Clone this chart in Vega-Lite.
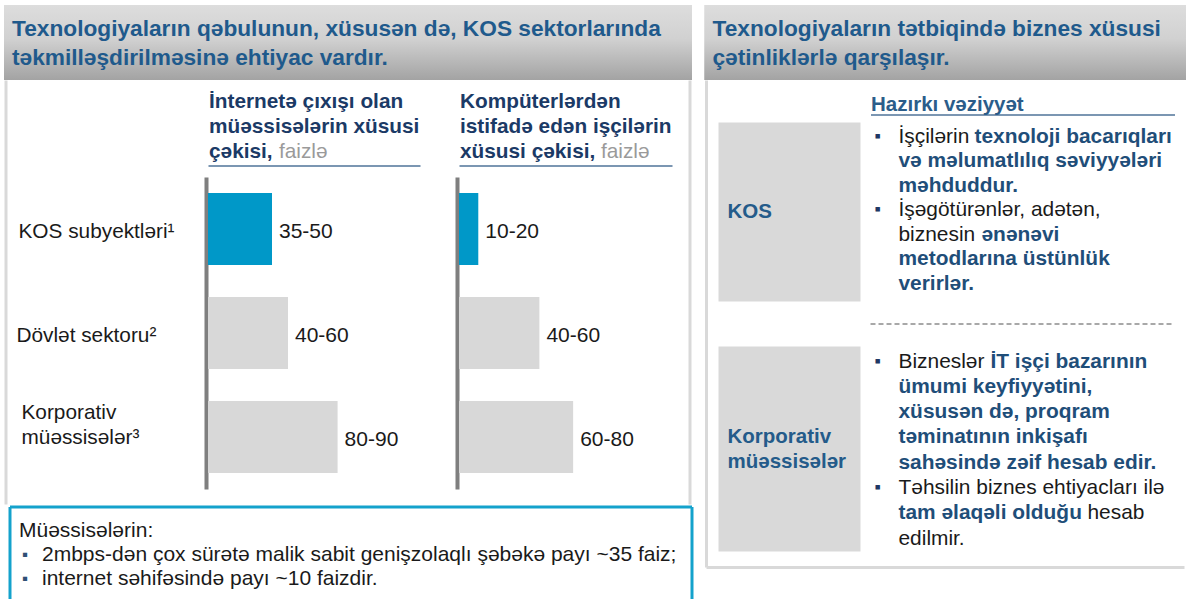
{
  "$schema": "https://vega.github.io/schema/vega-lite/v6.json",
  "background": "#FFFFFF",
  "padding": {"left": 4, "top": 5, "right": 0, "bottom": 0},
  "config": {"view": {"stroke": null}, "font": "Liberation Sans"},
  "datasets": {
    "bars": [
      {"chart": "c1", "cat": "KOS subyektləri¹", "value": 40, "label": "35-50", "hl": "KOS"},
      {"chart": "c1", "cat": "Dövlət sektoru²", "value": 50, "label": "40-60", "hl": "other"},
      {"chart": "c1", "cat": "Korporativ müəssisələr³", "value": 81, "label": "80-90", "hl": "other"},
      {"chart": "c2", "cat": "KOS subyektləri¹", "value": 12, "label": "10-20", "hl": "KOS"},
      {"chart": "c2", "cat": "Dövlət sektoru²", "value": 50, "label": "40-60", "hl": "other"},
      {"chart": "c2", "cat": "Korporativ müəssisələr³", "value": 71, "label": "60-80", "hl": "other"}
    ],
    "heads": [
      {"chart": "c1", "line": 1, "part": "main", "text": "İnternetə çıxışı olan"},
      {"chart": "c1", "line": 2, "part": "main", "text": "müəssisələrin xüsusi"},
      {"chart": "c1", "line": 3, "part": "main", "text": "çəkisi,"},
      {"chart": "c1", "line": 3, "part": "unit", "text": "faizlə"},
      {"chart": "c2", "line": 1, "part": "main", "text": "Kompüterlərdən"},
      {"chart": "c2", "line": 2, "part": "main", "text": "istifadə edən işçilərin"},
      {"chart": "c2", "line": 3, "part": "main", "text": "xüsusi çəkisi,"},
      {"chart": "c2", "line": 3, "part": "unit", "text": "faizlə"}
    ],
    "kos": [
      {"line": 1, "seg": 1, "style": "r", "bullet": true, "text": "İşçilərin"},
      {"line": 1, "seg": 2, "style": "b", "bullet": false, "text": "texnoloji bacarıqları"},
      {"line": 2, "seg": 1, "style": "b", "bullet": false, "text": "və məlumatlılıq səviyyələri"},
      {"line": 3, "seg": 1, "style": "b", "bullet": false, "text": "məhduddur."},
      {"line": 4, "seg": 1, "style": "r", "bullet": true, "text": "İşəgötürənlər, adətən,"},
      {"line": 5, "seg": 1, "style": "r", "bullet": false, "text": "biznesin"},
      {"line": 5, "seg": 2, "style": "b", "bullet": false, "text": "ənənəvi"},
      {"line": 6, "seg": 1, "style": "b", "bullet": false, "text": "metodlarına üstünlük"},
      {"line": 7, "seg": 1, "style": "b", "bullet": false, "text": "verirlər."}
    ],
    "korp": [
      {"line": 1, "seg": 1, "style": "r", "bullet": true, "text": "Bizneslər"},
      {"line": 1, "seg": 2, "style": "b", "bullet": false, "text": "İT işçi bazarının"},
      {"line": 2, "seg": 1, "style": "b", "bullet": false, "text": "ümumi keyfiyyətini,"},
      {"line": 3, "seg": 1, "style": "b", "bullet": false, "text": "xüsusən də, proqram"},
      {"line": 4, "seg": 1, "style": "b", "bullet": false, "text": "təminatının inkişafı"},
      {"line": 5, "seg": 1, "style": "b", "bullet": false, "text": "sahəsində zəif hesab edir."},
      {"line": 6, "seg": 1, "style": "r", "bullet": true, "text": "Təhsilin biznes ehtiyacları ilə"},
      {"line": 7, "seg": 1, "style": "b", "bullet": false, "text": "tam əlaqəli olduğu"},
      {"line": 7, "seg": 2, "style": "r", "bullet": false, "text": "hesab"},
      {"line": 8, "seg": 1, "style": "r", "bullet": false, "text": "edilmir."}
    ]
  },
  "spacing": 10.5,
  "hconcat": [
    {
      "spacing": -1.5,
      "vconcat": [
        {
          "width": 688,
          "height": 75,
          "data": {"values": [
            {"line": 1, "text": "Texnologiyaların qəbulunun, xüsusən də, KOS sektorlarında"},
            {"line": 2, "text": "təkmilləşdirilməsinə ehtiyac vardır."}
          ]},
          "layer": [
            {"mark": {"type": "rect", "color": {"gradient": "linear", "x1": 0, "y1": 0, "x2": 0, "y2": 1, "stops": [{"offset": 0, "color": "#DDDDDD"}, {"offset": 0.45, "color": "#D1D1D1"}, {"offset": 1, "color": "#A3A3A3"}]}}, "encoding": {}},
            {
              "mark": {"type": "text", "align": "left", "baseline": "middle", "fontSize": 22.7, "fontWeight": "bold", "color": "#1F5A8C"},
              "encoding": {
                "x": {"datum": 0, "type": "quantitative", "scale": {"domain": [0, 1], "range": [8, 680], "nice": false, "zero": false}, "axis": null},
                "y": {"field": "line", "type": "ordinal", "scale": {"type": "point", "domain": [1, 2], "range": [24, 52.5], "padding": 0}, "axis": null},
                "text": {"field": "text"}
              }
            }
          ]
        },
        {
          "spacing": 1,
          "bounds": "flush",
          "hconcat": [
            {"width": 1, "height": 1, "data": {"values": [{"s": 1}]}, "mark": {"type": "rect", "opacity": 0}, "encoding": {}},
            {
              "width": 684,
              "height": 424,
              "layer": [
                {
                  "data": {"values": [{"side": "left"}, {"side": "right"}]},
                  "mark": {"type": "rule", "color": "#D9D9D9", "strokeWidth": 3},
                  "encoding": {"x": {"field": "side", "type": "nominal", "scale": {"type": "point", "domain": ["left", "right"], "range": [0, 684], "padding": 0}, "axis": null}}
                },
                {
                  "data": {"name": "bars"},
                  "transform": [{"filter": "datum.chart == 'c1'"}],
                  "encoding": {
                    "x": {"field": "value", "type": "quantitative", "scale": {"domain": [0, 132.5], "range": [202, 414], "nice": false, "zero": false},
                      "axis": {"orient": "top", "offset": -85, "domain": true, "domainColor": "#4F7399", "domainWidth": 1.5, "ticks": false, "labels": false, "grid": false, "title": null}},
                    "y": {"field": "cat", "type": "nominal", "scale": {"type": "band", "domain": ["KOS subyektləri¹", "Dövlət sektoru²", "Korporativ müəssisələr³"], "range": [96.5, 408.5], "paddingInner": 0.3077, "paddingOuter": 0.1538},
                      "axis": {"orient": "left", "offset": -200, "domain": true, "domainColor": "#7F7F7F", "domainWidth": 4, "domainCap": "butt", "ticks": false, "tickSize": 0, "grid": false, "title": null,
                        "labelAlign": "left", "labelBaseline": "middle", "labelFontSize": 20.8, "labelColor": "#1A1A1A", "labelLimit": 0, "labelLineHeight": 25, "labelOverlap": false,
                        "labelPadding": {"condition": [{"test": "datum.value == 'Korporativ müəssisələr³'", "value": 185}, {"test": "datum.value == 'Dövlət sektoru²'", "value": 190}], "value": 188},
                        "labelOffset": {"condition": {"test": "datum.value == 'Korporativ müəssisələr³'", "value": -24}, "value": 3},
                        "labelExpr": "datum.value == 'Korporativ müəssisələr³' ? ['Korporativ', 'müəssisələr³'] : datum.label"}}
                  },
                  "layer": [
                    {"mark": {"type": "bar"}, "encoding": {"color": {"field": "hl", "type": "nominal", "scale": {"domain": ["KOS", "other"], "range": ["#0098C8", "#D8D8D8"]}, "legend": null}}},
                    {"mark": {"type": "text", "align": "left", "baseline": "middle", "dx": 7, "dy": 3, "fontSize": 21, "color": "#1A1A1A"}, "encoding": {"text": {"field": "label"}}}
                  ]
                },
                {
                  "data": {"name": "bars"},
                  "transform": [{"filter": "datum.chart == 'c2'"}],
                  "encoding": {
                    "x": {"field": "value", "type": "quantitative", "scale": {"domain": [0, 132.5], "range": [453, 666], "nice": false, "zero": false},
                      "axis": {"orient": "top", "offset": -85, "domain": true, "domainColor": "#4F7399", "domainWidth": 1.5, "ticks": false, "labels": false, "grid": false, "title": null}},
                    "y": {"field": "cat", "type": "nominal", "scale": {"type": "band", "domain": ["KOS subyektləri¹", "Dövlət sektoru²", "Korporativ müəssisələr³"], "range": [96.5, 408.5], "paddingInner": 0.3077, "paddingOuter": 0.1538},
                      "axis": {"orient": "left", "offset": -451, "domain": true, "domainColor": "#7F7F7F", "domainWidth": 4, "domainCap": "butt", "ticks": false, "labels": false, "grid": false, "title": null}}
                  },
                  "layer": [
                    {"mark": {"type": "bar"}, "encoding": {"color": {"field": "hl", "type": "nominal", "scale": {"domain": ["KOS", "other"], "range": ["#0098C8", "#D8D8D8"]}, "legend": null}}},
                    {"mark": {"type": "text", "align": "left", "baseline": "middle", "dx": 7, "dy": 3, "fontSize": 21, "color": "#1A1A1A"}, "encoding": {"text": {"field": "label"}}}
                  ]
                },
                {
                  "data": {"name": "heads"},
                  "encoding": {
                    "x": {"field": "chart", "type": "nominal", "scale": {"type": "point", "domain": ["c1", "c2"], "range": [203, 454], "padding": 0}, "axis": null},
                    "y": {"field": "line", "type": "ordinal", "scale": {"type": "point", "domain": [1, 2, 3], "range": [21, 71], "padding": 0}, "axis": null},
                    "text": {"field": "text"}
                  },
                  "layer": [
                    {"transform": [{"filter": "datum.part == 'main'"}], "mark": {"type": "text", "align": "left", "baseline": "middle", "fontSize": 20.8, "fontWeight": "bold", "color": "#1B3A66"}},
                    {"transform": [{"filter": "datum.part == 'unit' && datum.chart == 'c1'"}], "mark": {"type": "text", "align": "left", "baseline": "middle", "fontSize": 20.8, "color": "#9A9A9A", "dx": 70}},
                    {"transform": [{"filter": "datum.part == 'unit' && datum.chart == 'c2'"}], "mark": {"type": "text", "align": "left", "baseline": "middle", "fontSize": 20.8, "color": "#9A9A9A", "dx": 141}}
                  ]
                }
              ],
              "resolve": {"scale": {"x": "independent", "y": "independent"}, "axis": {"x": "independent", "y": "independent"}}
            }
          ]
        },
        {
          "spacing": 5,
          "bounds": "flush",
          "hconcat": [
            {"width": 1, "height": 1, "data": {"values": [{"s": 1}]}, "mark": {"type": "rect", "opacity": 0}, "encoding": {}},
            {
              "width": 682,
              "height": 93,
              "view": {"fill": "#FFFFFF"},
              "layer": [
                {
                  "data": {"values": [{"side": "left"}, {"side": "right"}]},
                  "mark": {"type": "rule", "color": "#14A2CC", "strokeWidth": 3},
                  "encoding": {"x": {"field": "side", "type": "nominal", "scale": {"type": "point", "domain": ["left", "right"], "range": [0, 682], "padding": 0}, "axis": null}}
                },
                {
                  "data": {"values": [{"side": "top"}]},
                  "mark": {"type": "rule", "color": "#14A2CC", "strokeWidth": 3},
                  "encoding": {"y": {"field": "side", "type": "nominal", "scale": {"type": "point", "domain": ["top", "bottom"], "range": [0, 93], "padding": 0}, "axis": null}}
                },
                {
                  "data": {"values": [
                    {"line": 1, "level": 0, "bullet": false, "text": "Müəssisələrin:"},
                    {"line": 2, "level": 1, "bullet": true, "text": "2mbps-dən çox sürətə malik sabit genişzolaqlı şəbəkə payı ~35 faiz;"},
                    {"line": 3, "level": 1, "bullet": true, "text": "internet səhifəsində payı ~10 faizdir."}
                  ]},
                  "encoding": {
                    "x": {"field": "level", "type": "quantitative", "scale": {"domain": [0, 1], "range": [9, 32], "nice": false, "zero": false}, "axis": null},
                    "y": {"field": "line", "type": "ordinal", "scale": {"type": "point", "domain": [1, 2, 3], "range": [24, 72], "padding": 0}, "axis": null}
                  },
                  "layer": [
                    {"mark": {"type": "text", "align": "left", "baseline": "middle", "fontSize": 21, "color": "#1A1A1A"}, "encoding": {"text": {"field": "text"}}},
                    {"transform": [{"filter": "datum.bullet"}], "mark": {"type": "text", "align": "left", "baseline": "middle", "fontSize": 17, "color": "#2F4F75", "dx": -20}, "encoding": {"text": {"value": "▪"}}}
                  ]
                }
              ],
              "resolve": {"scale": {"x": "independent", "y": "independent"}, "axis": {"x": "independent", "y": "independent"}}
            }
          ]
        }
      ]
    },
    {
      "spacing": -1.5,
      "vconcat": [
        {
          "width": 482,
          "height": 75,
          "data": {"values": [
            {"line": 1, "text": "Texnologiyaların tətbiqində biznes xüsusi"},
            {"line": 2, "text": "çətinliklərlə qarşılaşır."}
          ]},
          "layer": [
            {"mark": {"type": "rect", "color": {"gradient": "linear", "x1": 0, "y1": 0, "x2": 0, "y2": 1, "stops": [{"offset": 0, "color": "#DDDDDD"}, {"offset": 0.45, "color": "#D1D1D1"}, {"offset": 1, "color": "#A3A3A3"}]}}, "encoding": {}},
            {
              "mark": {"type": "text", "align": "left", "baseline": "middle", "fontSize": 22.7, "fontWeight": "bold", "color": "#1F5A8C"},
              "encoding": {
                "x": {"datum": 0, "type": "quantitative", "scale": {"domain": [0, 1], "range": [8, 470], "nice": false, "zero": false}, "axis": null},
                "y": {"field": "line", "type": "ordinal", "scale": {"type": "point", "domain": [1, 2], "range": [24, 52.5], "padding": 0}, "axis": null},
                "text": {"field": "text"}
              }
            }
          ]
        },
        {
          "spacing": 1,
          "bounds": "flush",
          "hconcat": [
            {"width": 1, "height": 1, "data": {"values": [{"s": 1}]}, "mark": {"type": "rect", "opacity": 0}, "encoding": {}},
            {
              "width": 478,
              "height": 487,
              "layer": [
                {
                  "data": {"values": [{"side": "left"}]},
                  "mark": {"type": "rule", "color": "#D9D9D9", "strokeWidth": 3},
                  "encoding": {"x": {"field": "side", "type": "nominal", "scale": {"type": "point", "domain": ["left", "right"], "range": [0, 478], "padding": 0}, "axis": null}}
                },
                {
                  "data": {"values": [{"side": "bottom"}]},
                  "mark": {"type": "rule", "color": "#D9D9D9", "strokeWidth": 3},
                  "encoding": {"y": {"field": "side", "type": "nominal", "scale": {"type": "point", "domain": ["top", "bottom"], "range": [0, 487], "padding": 0}, "axis": null}}
                },
                {
                  "data": {"values": [{"line": "divider"}]},
                  "mark": {"type": "rule", "color": "#8C8C8C", "strokeWidth": 1.5, "strokeDash": [5, 3]},
                  "encoding": {
                    "x": {"datum": 0, "type": "quantitative", "scale": {"domain": [0, 1], "range": [164, 468], "nice": false, "zero": false},
                      "axis": {"orient": "top", "offset": -34, "domain": true, "domainColor": "#4F7399", "domainWidth": 1.5, "ticks": false, "labels": false, "grid": false,
                        "title": "Hazırkı vəziyyət", "titleAnchor": "start", "titleAlign": "left", "titleBaseline": "alphabetic", "titlePadding": 4, "titleFontSize": 20.5, "titleFontWeight": "bold", "titleColor": "#2B5D8A"}},
                    "x2": {"datum": 1}
                  }
                },
                {
                  "data": {"values": [{"sec": "KOS", "label": "KOS"}]},
                  "encoding": {
                    "x": {"datum": "box", "type": "nominal", "scale": {"type": "band", "domain": ["box"], "range": [12, 154], "paddingInner": 0, "paddingOuter": 0}, "axis": null},
                    "y": {"field": "sec", "type": "nominal", "scale": {"type": "band", "domain": ["KOS"], "range": [42, 221], "paddingInner": 0, "paddingOuter": 0}, "axis": null}
                  },
                  "layer": [
                    {"mark": {"type": "rect", "color": "#D9D9D9"}},
                    {"mark": {"type": "text", "align": "left", "baseline": "middle", "dx": 9, "fontSize": 20.5, "fontWeight": "bold", "color": "#245B8A"},
                      "encoding": {"x": {"datum": "box", "type": "nominal", "bandPosition": 0}, "text": {"field": "label"}}}
                  ]
                },
                {
                  "data": {"values": [{"sec": "Korp", "label": ["Korporativ", "müəssisələr"]}]},
                  "encoding": {
                    "x": {"datum": "box", "type": "nominal", "scale": {"type": "band", "domain": ["box"], "range": [12, 154], "paddingInner": 0, "paddingOuter": 0}, "axis": null},
                    "y": {"field": "sec", "type": "nominal", "scale": {"type": "band", "domain": ["Korp"], "range": [266, 471], "paddingInner": 0, "paddingOuter": 0}, "axis": null}
                  },
                  "layer": [
                    {"mark": {"type": "rect", "color": "#D9D9D9"}},
                    {"mark": {"type": "text", "align": "left", "baseline": "middle", "dx": 9, "dy": -12, "fontSize": 20.5, "fontWeight": "bold", "color": "#245B8A", "lineHeight": 25},
                      "encoding": {"x": {"datum": "box", "type": "nominal", "bandPosition": 0}, "text": {"field": "label"}}}
                  ]
                },
                {
                  "data": {"name": "kos"},
                  "encoding": {
                    "x": {"datum": 0, "type": "quantitative", "scale": {"domain": [0, 1], "range": [192, 468], "nice": false, "zero": false}, "axis": null},
                    "y": {"field": "line", "type": "ordinal", "scale": {"type": "point", "domain": [1, 2, 3, 4, 5, 6, 7], "range": [56, 203], "padding": 0}, "axis": null},
                    "text": {"field": "text"}
                  },
                  "layer": [
                    {"transform": [{"filter": "datum.bullet"}], "mark": {"type": "text", "align": "left", "baseline": "middle", "fontSize": 18, "color": "#1F3864", "dx": -24}, "encoding": {"text": {"value": "▪"}}},
                    {"transform": [{"filter": "datum.seg == 1 && datum.style == 'r'"}], "mark": {"type": "text", "align": "left", "baseline": "middle", "fontSize": 20.9, "color": "#1A1A1A"}},
                    {"transform": [{"filter": "datum.seg == 1 && datum.style == 'b'"}], "mark": {"type": "text", "align": "left", "baseline": "middle", "fontSize": 20.9, "fontWeight": "bold", "color": "#1F4E79"}},
                    {"transform": [{"filter": "datum.seg == 2 && datum.line == 1"}], "mark": {"type": "text", "align": "left", "baseline": "middle", "fontSize": 20.9, "fontWeight": "bold", "color": "#1F4E79", "dx": 76}},
                    {"transform": [{"filter": "datum.seg == 2 && datum.line == 5"}], "mark": {"type": "text", "align": "left", "baseline": "middle", "fontSize": 20.9, "fontWeight": "bold", "color": "#1F4E79", "dx": 83}}
                  ]
                },
                {
                  "data": {"name": "korp"},
                  "encoding": {
                    "x": {"datum": 0, "type": "quantitative", "scale": {"domain": [0, 1], "range": [192, 468], "nice": false, "zero": false}, "axis": null},
                    "y": {"field": "line", "type": "ordinal", "scale": {"type": "point", "domain": [1, 2, 3, 4, 5, 6, 7, 8], "range": [281, 458], "padding": 0}, "axis": null},
                    "text": {"field": "text"}
                  },
                  "layer": [
                    {"transform": [{"filter": "datum.bullet"}], "mark": {"type": "text", "align": "left", "baseline": "middle", "fontSize": 18, "color": "#1F3864", "dx": -24}, "encoding": {"text": {"value": "▪"}}},
                    {"transform": [{"filter": "datum.seg == 1 && datum.style == 'r'"}], "mark": {"type": "text", "align": "left", "baseline": "middle", "fontSize": 20.9, "color": "#1A1A1A"}},
                    {"transform": [{"filter": "datum.seg == 1 && datum.style == 'b'"}], "mark": {"type": "text", "align": "left", "baseline": "middle", "fontSize": 20.9, "fontWeight": "bold", "color": "#1F4E79"}},
                    {"transform": [{"filter": "datum.seg == 2 && datum.line == 1"}], "mark": {"type": "text", "align": "left", "baseline": "middle", "fontSize": 20.9, "fontWeight": "bold", "color": "#1F4E79", "dx": 92}},
                    {"transform": [{"filter": "datum.seg == 2 && datum.line == 7"}], "mark": {"type": "text", "align": "left", "baseline": "middle", "fontSize": 20.9, "color": "#1A1A1A", "dx": 189}}
                  ]
                }
              ],
              "resolve": {"scale": {"x": "independent", "y": "independent"}, "axis": {"x": "independent", "y": "independent"}}
            }
          ]
        }
      ]
    }
  ]
}
